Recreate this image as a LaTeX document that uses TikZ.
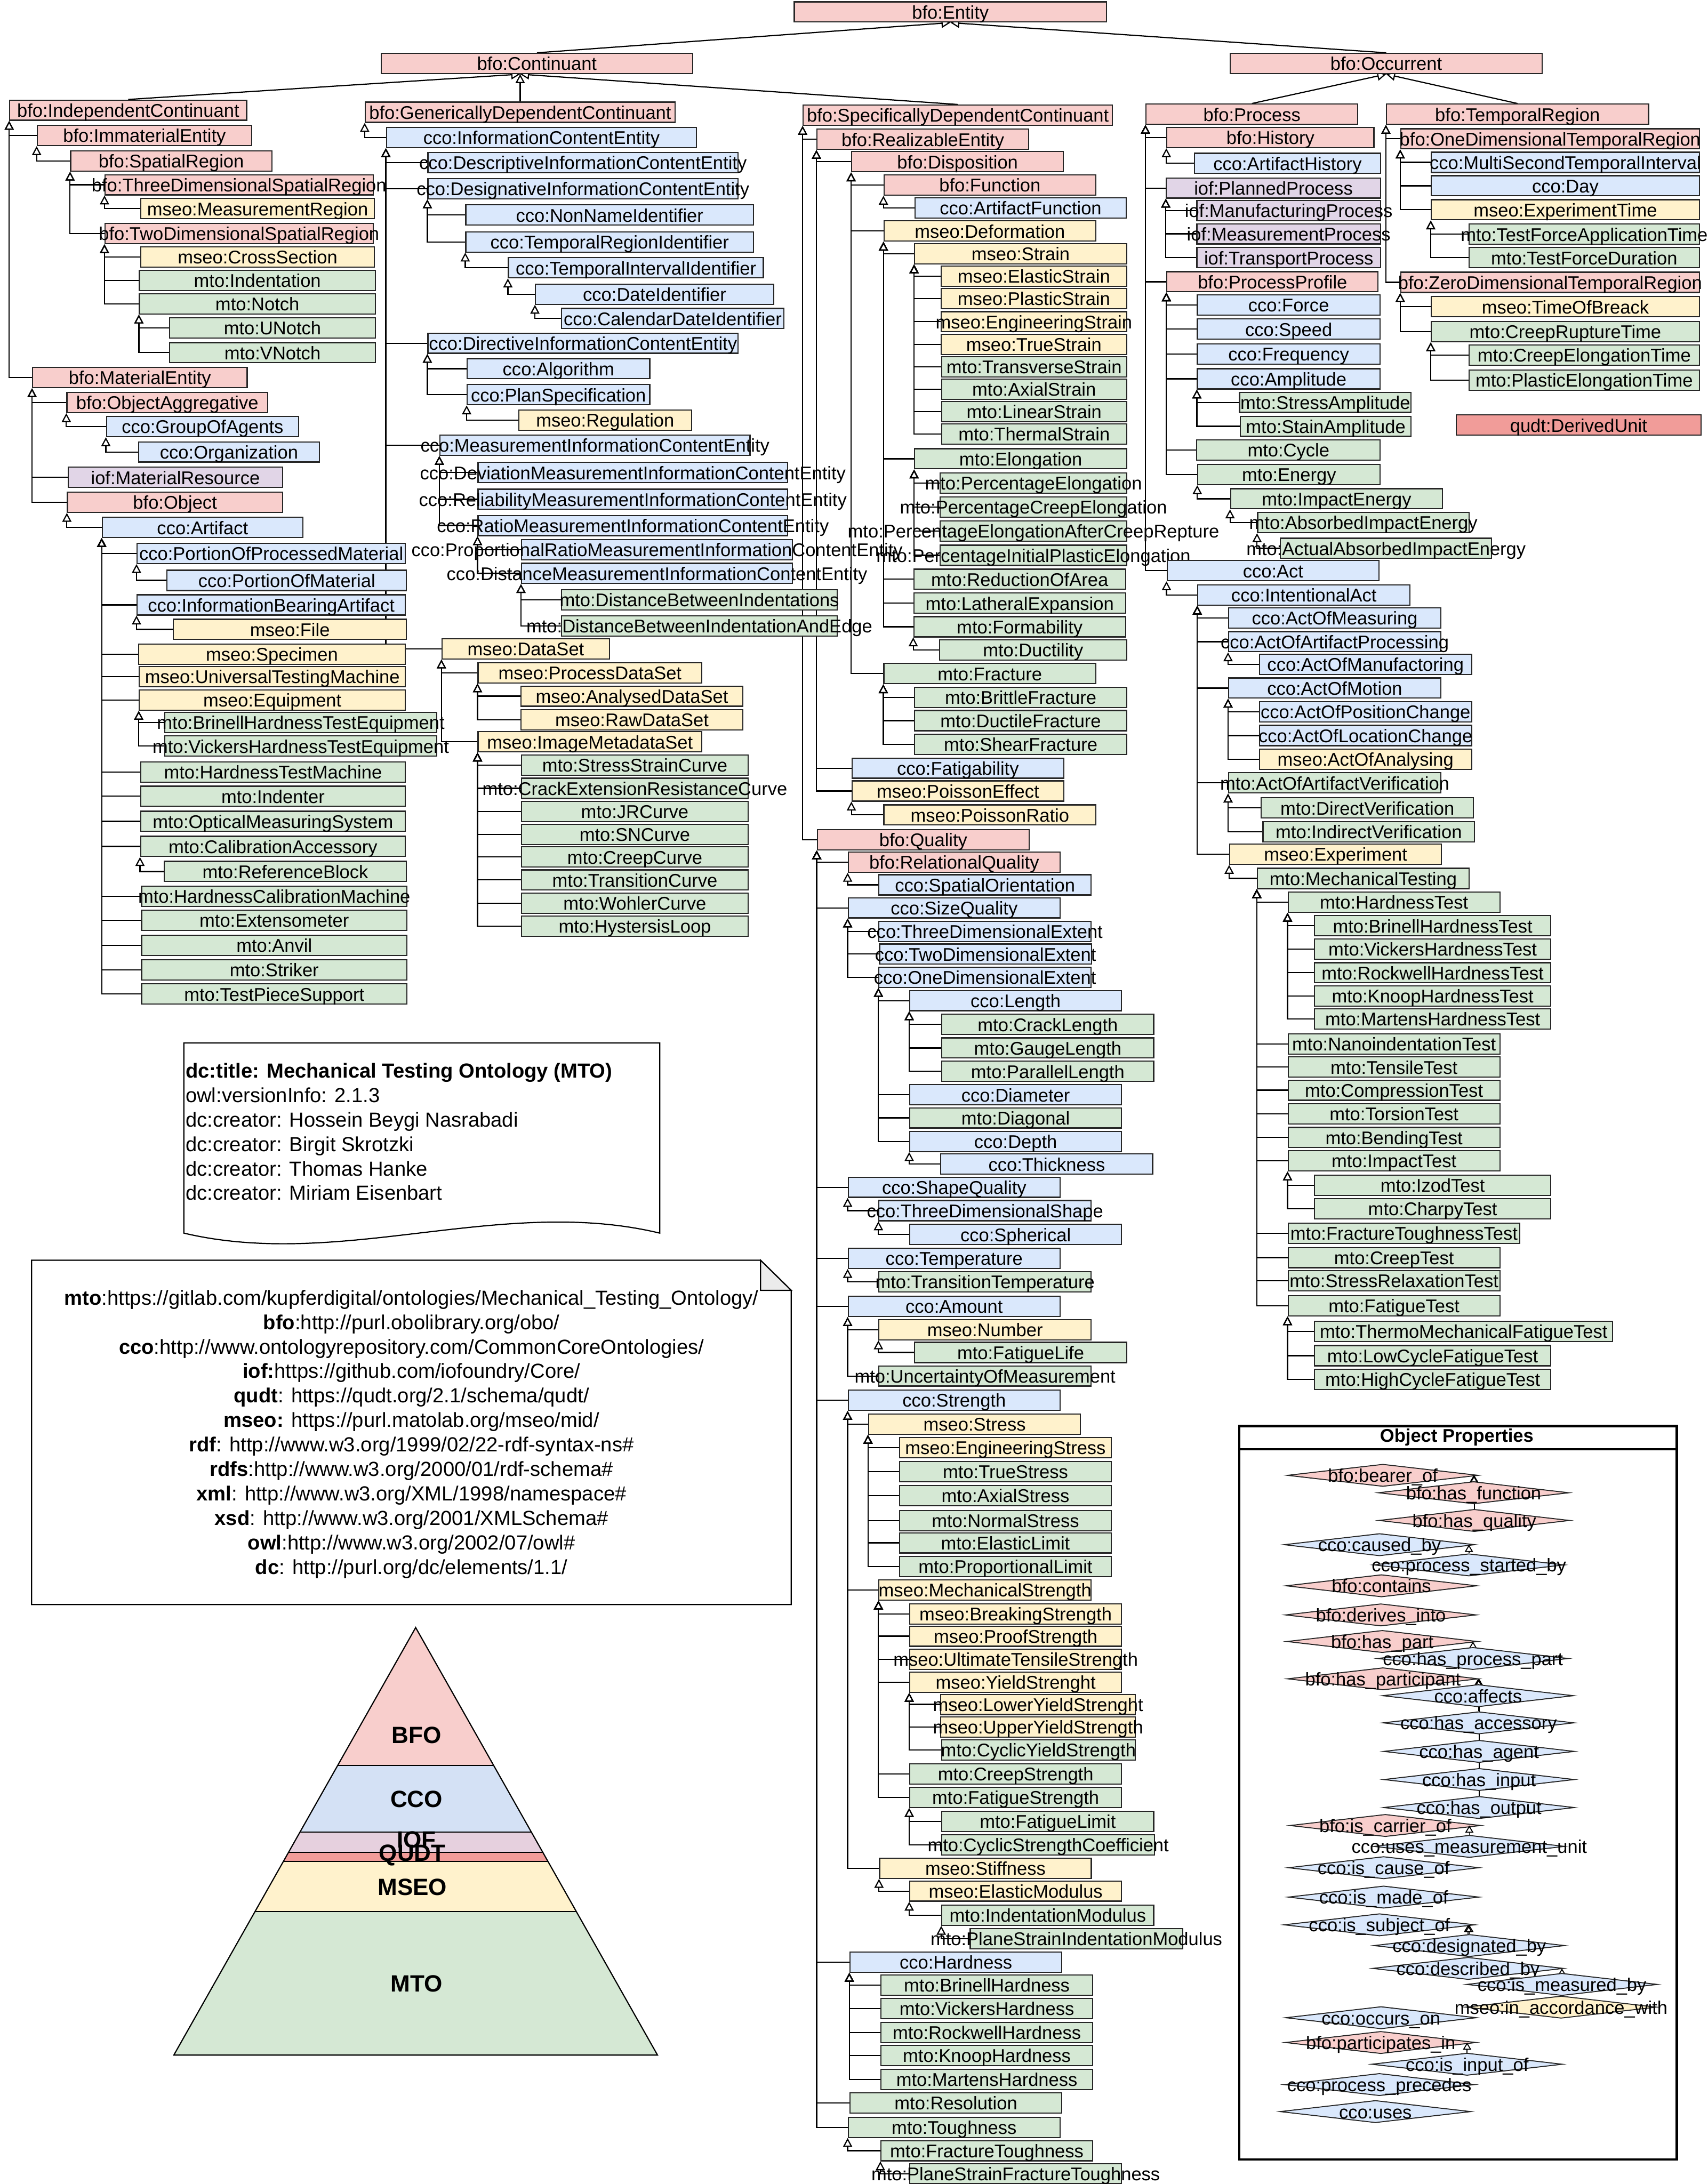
\documentclass[tikz,border=0pt]{standalone}
\usepackage{fontspec}
\setmainfont{Liberation Sans}
\usepackage{tikz}
\usetikzlibrary{arrows.meta,shapes.geometric}
\definecolor{bfoC}{HTML}{F8CECC}
\definecolor{ccoC}{HTML}{DAE8FC}
\definecolor{mseoC}{HTML}{FFF2CC}
\definecolor{mtoC}{HTML}{D5E8D4}
\definecolor{iofC}{HTML}{E1D5E7}
\definecolor{qudtC}{HTML}{F19C99}
\definecolor{pyrcco}{HTML}{D4E1F5}
\definecolor{pyriof}{HTML}{E6D0DE}
\pgfdeclarelayer{background}
\pgfdeclarelayer{front}
\pgfsetlayers{background,main,front}
\newcommand{\boxfont}{\fontsize{9.4}{11}\selectfont}
\newcommand{\notefont}{\fontsize{10.4}{12.5}\selectfont}
\newcommand{\boxlabel}[1]{\makebox[0pt]{\raisebox{-3.5pt}[0pt][0pt]{#1}}}
\tikzset{
  cls/.style={rectangle, draw=black!85, line width=0.6pt, anchor=north west, inner sep=0pt, minimum height=0.3625cm, font=\boxfont},
  wd/.style={minimum width=#1*0.025cm},
  bfo/.style={cls, fill=bfoC},
  cco/.style={cls, fill=ccoC},
  mseo/.style={cls, fill=mseoC},
  mto/.style={cls, fill=mtoC},
  iof/.style={cls, fill=iofC},
  qudt/.style={cls, fill=qudtC},
  isa/.style={line width=0.6pt, -{Triangle[open, length=0.16cm, width=0.165cm]}},
  prop/.style={diamond, draw=black!85, line width=0.5pt, inner sep=0pt, minimum width=3.425cm, minimum height=0.4cm, font=\boxfont},
  subprop/.style={line width=0.5pt, -{Triangle[open, length=0.13cm, width=0.15cm]}},
}

\begin{document}
\begin{tikzpicture}[x=0.025cm, y=-0.025cm]
  \useasboundingbox (0,0) rectangle (1226,1568);
  % Top level
  \node[bfo, wd=224.1] (entity) at (569.8,0.9) {\boxlabel{bfo:Entity}};
  \node[bfo, wd=223.4] (continuant) at (273.3,37.9) {\boxlabel{bfo:Continuant}};
  \node[bfo, wd=223.8] (occurrent) at (882.8,37.9) {\boxlabel{bfo:Occurrent}};
  % Independent continuants
  \node[bfo, wd=170] (indcont) at (6.6,71.4) {\boxlabel{bfo:IndependentContinuant}};
  \node[bfo, wd=154] (immat) at (26.3,89.6) {\boxlabel{bfo:ImmaterialEntity}};
  \node[bfo, wd=144.4] (spatial) at (50.3,107.9) {\boxlabel{bfo:SpatialRegion}};
  \node[bfo, wd=192.4] (threedsr) at (75,125) {\boxlabel{bfo:ThreeDimensionalSpatialRegion}};
  \node[mseo, wd=167.8] (measreg) at (100.6,142.1) {\boxlabel{mseo:MeasurementRegion}};
  \node[bfo, wd=192.4] (twodsr) at (75,160) {\boxlabel{bfo:TwoDimensionalSpatialRegion}};
  \node[mseo, wd=167.8] (crosssec) at (100.6,176.8) {\boxlabel{mseo:CrossSection}};
  \node[mto, wd=169.3] (indentation) at (99.7,193.6) {\boxlabel{mto:Indentation}};
  \node[mto, wd=169.3] (notch) at (99.7,210.5) {\boxlabel{mto:Notch}};
  \node[mto, wd=147.6] (unotch) at (121.4,227.7) {\boxlabel{mto:UNotch}};
  \node[mto, wd=147.6] (vnotch) at (121.4,245.5) {\boxlabel{mto:VNotch}};
  \node[bfo, wd=154] (matent) at (23,263.4) {\boxlabel{bfo:MaterialEntity}};
  \node[bfo, wd=144.2] (objagg) at (47.6,281.3) {\boxlabel{bfo:ObjectAggregative}};
  \node[cco, wd=138] (groupag) at (76,298.6) {\boxlabel{cco:GroupOfAgents}};
  \node[cco, wd=130] (organization) at (99,316.8) {\boxlabel{cco:Organization}};
  \node[iof, wd=153.8] (matres) at (48.6,335) {\boxlabel{iof:MaterialResource}};
  \node[bfo, wd=154.4] (object) at (48,352.9) {\boxlabel{bfo:Object}};
  \node[cco, wd=144] (artifact) at (73,371) {\boxlabel{cco:Artifact}};
  \node[cco, wd=192.6] (ppm) at (98,389.6) {\boxlabel{cco:PortionOfProcessedMaterial}};
  \node[cco, wd=171.9] (pom) at (119.5,409) {\boxlabel{cco:PortionOfMaterial}};
  \node[cco, wd=192.6] (iba) at (98,426.6) {\boxlabel{cco:InformationBearingArtifact}};
  \node[mseo, wd=167.4] (file) at (124,444.2) {\boxlabel{mseo:File}};
  \node[mseo, wd=191.6] (specimen) at (99,462) {\boxlabel{mseo:Specimen}};
  \node[mseo, wd=191] (utm) at (99.6,478) {\boxlabel{mseo:UniversalTestingMachine}};
  \node[mseo, wd=191] (equipment) at (99.6,495) {\boxlabel{mseo:Equipment}};
  \node[mto, wd=195] (bhte) at (118,511) {\boxlabel{mto:BrinellHardnessTestEquipment}};
  \node[mto, wd=195] (vhte) at (118,528) {\boxlabel{mto:VickersHardnessTestEquipment}};
  \foreach \nm/\yy/\txt in {htm/546.5/HardnessTestMachine, indenter/564/Indenter,
      oms/582/OpticalMeasuringSystem, calacc/600/CalibrationAccessory}{
    \node[mto, wd=190.1] (\nm) at (100.5,\yy) {\boxlabel{mto:\txt}};
  }
  \node[mto, wd=174] (refblock) at (117.4,618) {\boxlabel{mto:ReferenceBlock}};
  \foreach \nm/\yy/\txt in {hcm/635.7/HardnessCalibrationMachine, extenso/653/Extensometer,
      anvil/671/Anvil, striker/688.6/Striker, tps/706/TestPieceSupport}{
    \node[mto, wd=190.5] (\nm) at (101.2,\yy) {\boxlabel{mto:\txt}};
  }
  % Generically dependent continuants
  \node[bfo, wd=222.4] (gdc) at (261.8,72.9) {\boxlabel{bfo:GenericallyDependentContinuant}};
  \node[cco, wd=222.6] (ice) at (277,91) {\boxlabel{cco:InformationContentEntity}};
  \node[cco, wd=222.6] (descice) at (306.8,109) {\boxlabel{cco:DescriptiveInformationContentEntity}};
  \node[cco, wd=222.6] (desigice) at (306.8,127.8) {\boxlabel{cco:DesignativeInformationContentEntity}};
  \node[cco, wd=206.5] (nonname) at (334,146.7) {\boxlabel{cco:NonNameIdentifier}};
  \node[cco, wd=206.5] (tempregid) at (334,166) {\boxlabel{cco:TemporalRegionIdentifier}};
  \node[cco, wd=183] (tempintid) at (364.6,184.6) {\boxlabel{cco:TemporalIntervalIdentifier}};
  \node[cco, wd=171] (dateid) at (384,203.5) {\boxlabel{cco:DateIdentifier}};
  \node[cco, wd=159.8] (caldateid) at (402.6,221) {\boxlabel{cco:CalendarDateIdentifier}};
  \node[cco, wd=222.6] (dirice) at (306.8,238.7) {\boxlabel{cco:DirectiveInformationContentEntity}};
  \node[cco, wd=131] (algorithm) at (335,257) {\boxlabel{cco:Algorithm}};
  \node[cco, wd=131] (planspec) at (335,275.7) {\boxlabel{cco:PlanSpecification}};
  \node[mseo, wd=124] (regulation) at (372,294) {\boxlabel{mseo:Regulation}};
  \node[cco, wd=222.6] (measice) at (315.4,312) {\boxlabel{cco:MeasurementInformationContentEntity}};
  \node[cco, wd=222.2] (devmice) at (342.8,331.6) {\boxlabel{cco:DeviationMeasurementInformationContentEntity}};
  \node[cco, wd=222.2] (relmice) at (342.8,350.8) {\boxlabel{cco:ReliabilityMeasurementInformationContentEntity}};
  \node[cco, wd=222.2] (ratiomice) at (342.8,369.6) {\boxlabel{cco:RatioMeasurementInformationContentEntity}};
  \node[cco, wd=194.5] (propmice) at (374,387) {\boxlabel{cco:ProportionalRatioMeasurementInformationContentEntity}};
  \node[cco, wd=194.5] (distmice) at (374,404) {\boxlabel{cco:DistanceMeasurementInformationContentEntity}};
  \node[mto, wd=198.1] (dbi) at (402.6,423) {\boxlabel{mto:DistanceBetweenIndentations}};
  \node[mto, wd=198.1] (dbie) at (402.6,441.7) {\boxlabel{mto:DistanceBetweenIndentationAndEdge}};
  \node[mseo, wd=120.2] (dataset) at (316.9,458.1) {\boxlabel{mseo:DataSet}};
  \node[mseo, wd=160.6] (procds) at (342.8,475.3) {\boxlabel{mseo:ProcessDataSet}};
  \node[mseo, wd=159] (analds) at (373.7,492.1) {\boxlabel{mseo:AnalysedDataSet}};
  \node[mseo, wd=159] (rawds) at (373.7,509) {\boxlabel{mseo:RawDataSet}};
  \node[mseo, wd=160.6] (imgmeta) at (342.8,524.9) {\boxlabel{mseo:ImageMetadataSet}};
  \foreach \nm/\yy/\txt in {sscurve/541.7/StressStrainCurve, crcurve/558.3/CrackExtensionResistanceCurve,
      jrcurve/575/JRCurve, sncurve/591.4/SNCurve, creepcurve/607.6/CreepCurve,
      transcurve/624.1/TransitionCurve, wohler/640.7/WohlerCurve, hysteresis/657.2/HystersisLoop}{
    \node[mto, wd=162.6] (\nm) at (374,\yy) {\boxlabel{mto:\txt}};
  }
  % Specifically dependent continuants
  \node[bfo, wd=222] (sdc) at (576.2,75) {\boxlabel{bfo:SpecificallyDependentContinuant}};
  \node[bfo, wd=152] (realizable) at (586.1,92.3) {\boxlabel{bfo:RealizableEntity}};
  \node[bfo, wd=152] (disposition) at (611,108.4) {\boxlabel{bfo:Disposition}};
  \node[bfo, wd=152] (function) at (634.2,125.2) {\boxlabel{bfo:Function}};
  \node[cco, wd=151.6] (artfunc) at (656.5,141.6) {\boxlabel{cco:ArtifactFunction}};
  \node[mseo, wd=152] (deformation) at (634.2,158.2) {\boxlabel{mseo:Deformation}};
  \node[mseo, wd=152.2] (strain) at (656.2,174.5) {\boxlabel{mseo:Strain}};
  \foreach \nm/\yy/\txt in {elastrain/190.6/ElasticStrain, plastrain/206.6/PlasticStrain,
      engstrain/223.3/EngineeringStrain, truestrain/239.6/TrueStrain}{
    \node[mseo, wd=133.2] (\nm) at (675.2,\yy) {\boxlabel{mseo:\txt}};
  }
  \foreach \nm/\yy/\txt in {transstrain/255.7/TransverseStrain, axstrain/271.8/AxialStrain,
      linstrain/287.8/LinearStrain, thermstrain/303.9/ThermalStrain}{
    \node[mto, wd=132.9] (\nm) at (675.5,\yy) {\boxlabel{mto:\txt}};
  }
  \node[mto, wd=152.2] (elongation) at (656.2,321.7) {\boxlabel{mto:Elongation}};
  \foreach \nm/\yy/\txt in {pctelong/339.1/PercentageElongation, pctcreep/356.3/PercentageCreepElongation,
      pctafter/373.5/PercentageElongationAfterCreepRepture, pctinit/391/PercentageInitialPlasticElongation}{
    \node[mto, wd=133.8] (\nm) at (674.6,\yy) {\boxlabel{mto:\txt}};
  }
  \foreach \nm/\yy/\txt in {redarea/408.2/ReductionOfArea, latexp/425.4/LatheralExpansion,
      formability/442.3/Formability}{
    \node[mto, wd=152] (\nm) at (655.6,\yy) {\boxlabel{mto:\txt}};
  }
  \node[mto, wd=134.4] (ductility) at (674,459) {\boxlabel{mto:Ductility}};
  \node[mto, wd=152.2] (fracture) at (634.1,475.9) {\boxlabel{mto:Fracture}};
  \foreach \nm/\yy/\txt in {britfrac/493/BrittleFracture, ductfrac/509.7/DuctileFracture,
      shearfrac/526.6/ShearFracture}{
    \node[mto, wd=152.2] (\nm) at (656.2,\yy) {\boxlabel{mto:\txt}};
  }
  \node[cco, wd=152.1] (fatigability) at (611.2,543.8) {\boxlabel{cco:Fatigability}};
  \node[mseo, wd=152.1] (poissoneff) at (611.2,560.2) {\boxlabel{mseo:PoissonEffect}};
  \node[mseo, wd=152.2] (poissonratio) at (634.1,577.4) {\boxlabel{mseo:PoissonRatio}};
  % Qualities
  \node[bfo, wd=152.2] (quality) at (586.3,595.2) {\boxlabel{bfo:Quality}};
  \node[bfo, wd=152.1] (relqual) at (608.5,611.3) {\boxlabel{bfo:RelationalQuality}};
  \node[cco, wd=152.2] (spatorient) at (630.6,627.6) {\boxlabel{cco:SpatialOrientation}};
  \node[cco, wd=152.1] (sizequal) at (608.5,644.1) {\boxlabel{cco:SizeQuality}};
  \node[cco, wd=152.2] (threedext) at (630.6,661) {\boxlabel{cco:ThreeDimensionalExtent}};
  \node[cco, wd=152.2] (twodext) at (631,677.3) {\boxlabel{cco:TwoDimensionalExtent}};
  \node[cco, wd=152.2] (onedext) at (630.6,693.9) {\boxlabel{cco:OneDimensionalExtent}};
  \node[cco, wd=152] (length) at (652.7,710.7) {\boxlabel{cco:Length}};
  \foreach \nm/\yy/\txt in {cracklen/727.8/CrackLength, gaugelen/744.7/GaugeLength,
      parallen/761.5/ParallelLength}{
    \node[mto, wd=152.1] (\nm) at (675.7,\yy) {\boxlabel{mto:\txt}};
  }
  \node[cco, wd=152] (diameter) at (652.7,778.3) {\boxlabel{cco:Diameter}};
  \node[mto, wd=152] (diagonal) at (652.7,794.9) {\boxlabel{mto:Diagonal}};
  \node[cco, wd=152] (depth) at (652.7,811.8) {\boxlabel{cco:Depth}};
  \node[cco, wd=152] (thickness) at (675,828.1) {\boxlabel{cco:Thickness}};
  \node[cco, wd=152.1] (shapequal) at (608.5,844.7) {\boxlabel{cco:ShapeQuality}};
  \node[cco, wd=152.2] (threedshape) at (630.6,861.5) {\boxlabel{cco:ThreeDimensionalShape}};
  \node[cco, wd=152] (spherical) at (652.7,878.6) {\boxlabel{cco:Spherical}};
  \node[cco, wd=152.1] (temperature) at (608.5,895.7) {\boxlabel{cco:Temperature}};
  \node[mto, wd=152.2] (transtemp) at (630.6,912.5) {\boxlabel{mto:TransitionTemperature}};
  \node[cco, wd=152.1] (amount) at (608.5,930.2) {\boxlabel{cco:Amount}};
  \node[mseo, wd=152.2] (number) at (630.6,947) {\boxlabel{mseo:Number}};
  \node[mto, wd=152.2] (fatiguelife) at (656.2,963.3) {\boxlabel{mto:FatigueLife}};
  \node[mto, wd=152.2] (uncertainty) at (630.6,980.2) {\boxlabel{mto:UncertaintyOfMeasurement}};
  \node[cco, wd=152.1] (strength) at (608.5,997.6) {\boxlabel{cco:Strength}};
  \node[mseo, wd=152.2] (stress) at (623.1,1014.8) {\boxlabel{mseo:Stress}};
  \node[mseo, wd=152.1] (engstress) at (645.3,1031.6) {\boxlabel{mseo:EngineeringStress}};
  \foreach \nm/\yy/\txt in {truestress/1048.8/TrueStress, axstress/1066/AxialStress,
      normstress/1084/NormalStress, elaslimit/1100/ElasticLimit, proplimit/1117/ProportionalLimit}{
    \node[mto, wd=152.1] (\nm) at (645.3,\yy) {\boxlabel{mto:\txt}};
  }
  \node[mseo, wd=152.2] (mechstrength) at (630.6,1133.8) {\boxlabel{mseo:MechanicalStrength}};
  \foreach \nm/\yy/\txt in {breakstrength/1151/BreakingStrength, proofstrength/1167/ProofStrength,
      uts/1183.5/UltimateTensileStrength, yieldstrength/1200/YieldStrenght}{
    \node[mseo, wd=152] (\nm) at (652.7,\yy) {\boxlabel{mseo:\txt}};
  }
  \node[mseo, wd=139.6] (loweryield) at (675,1216) {\boxlabel{mseo:LowerYieldStrenght}};
  \node[mseo, wd=139.6] (upperyield) at (675,1232.2) {\boxlabel{mseo:UpperYieldStrength}};
  \node[mto, wd=139.1] (cyclicyield) at (675.5,1248.7) {\boxlabel{mto:CyclicYieldStrength}};
  \node[mto, wd=152] (creepstrength) at (652.7,1265.9) {\boxlabel{mto:CreepStrength}};
  \node[mto, wd=152] (fatiguestrength) at (652.7,1282.7) {\boxlabel{mto:FatigueStrength}};
  \node[mto, wd=152.1] (fatiguelimit) at (675.7,1300) {\boxlabel{mto:FatigueLimit}};
  \node[mto, wd=152.7] (cycstrcoef) at (675.7,1316.8) {\boxlabel{mto:CyclicStrengthCoefficient}};
  \node[mseo, wd=152] (stiffness) at (631,1333.6) {\boxlabel{mseo:Stiffness}};
  \node[mseo, wd=152] (elasmod) at (652.7,1350) {\boxlabel{mseo:ElasticModulus}};
  \node[mto, wd=152.1] (indentmod) at (675.7,1367.3) {\boxlabel{mto:IndentationModulus}};
  \node[mto, wd=152.4] (psindentmod) at (696.1,1384.1) {\boxlabel{mto:PlaneStrainIndentationModulus}};
  \node[cco, wd=152.2] (hardness) at (609.7,1401) {\boxlabel{cco:Hardness}};
  \foreach \nm/\yy/\txt in {brinell/1417.4/BrinellHardness, vickers/1434.3/VickersHardness,
      rockwell/1451.5/RockwellHardness, knoop/1468/KnoopHardness, martens/1485.2/MartensHardness}{
    \node[mto, wd=152] (\nm) at (632,\yy) {\boxlabel{mto:\txt}};
  }
  \node[mto, wd=152.2] (resolution) at (609.7,1502) {\boxlabel{mto:Resolution}};
  \node[mto, wd=152.1] (toughness) at (608.5,1519.6) {\boxlabel{mto:Toughness}};
  \node[mto, wd=152] (fractough) at (632,1536.4) {\boxlabel{mto:FractureToughness}};
  \node[mto, wd=152] (psfractough) at (652.7,1552.9) {\boxlabel{mto:PlaneStrainFractureToughness}};
  % Processes
  \node[bfo, wd=152] (process) at (822.3,74.3) {\boxlabel{bfo:Process}};
  \node[bfo, wd=148.6] (history) at (837.3,91.1) {\boxlabel{bfo:History}};
  \node[cco, wd=133.5] (arthist) at (857.1,109.6) {\boxlabel{cco:ArtifactHistory}};
  \node[iof, wd=153.7] (plannedproc) at (836.9,127.3) {\boxlabel{iof:PlannedProcess}};
  \foreach \nm/\yy/\txt in {manufproc/143.4/ManufacturingProcess, measproc/160.2/MeasurementProcess,
      transproc/177.3/TransportProcess}{
    \node[iof, wd=131.8] (\nm) at (858.8,\yy) {\boxlabel{iof:\txt}};
  }
  \node[bfo, wd=151.6] (procprofile) at (837.3,194.6) {\boxlabel{bfo:ProcessProfile}};
  \foreach \nm/\yy/\txt in {force/211.3/Force, speed/228.6/Speed, frequency/246.4/Frequency,
      amplitude/264.3/Amplitude}{
    \node[cco, wd=131] (\nm) at (859.2,\yy) {\boxlabel{cco:\txt}};
  }
  \node[mto, wd=123.2] (stressamp) at (889.4,281.2) {\boxlabel{mto:StressAmplitude}};
  \node[mto, wd=122.6] (stainamp) at (890,298.4) {\boxlabel{mto:StainAmplitude}};
  \node[mto, wd=131.7] (cycle) at (858.7,315.4) {\boxlabel{mto:Cycle}};
  \node[mto, wd=130.9] (energy) at (859.5,333) {\boxlabel{mto:Energy}};
  \node[mto, wd=152.2] (impactenergy) at (883,350.4) {\boxlabel{mto:ImpactEnergy}};
  \node[mto, wd=151.8] (absimpact) at (902.4,367.5) {\boxlabel{mto:AbsorbedImpactEnergy}};
  \node[mto, wd=151.6] (actabsimpact) at (918.8,386) {\boxlabel{mto:ActualAbsorbedImpactEnergy}};
  \node[cco, wd=152.2] (act) at (837.4,402) {\boxlabel{cco:Act}};
  \node[cco, wd=152.3] (intact) at (859.5,419.5) {\boxlabel{cco:IntentionalAct}};
  \node[cco, wd=152.3] (actmeas) at (881.6,436) {\boxlabel{cco:ActOfMeasuring}};
  \node[cco, wd=152.3] (actartproc) at (881.6,453) {\boxlabel{cco:ActOfArtifactProcessing}};
  \node[cco, wd=152.3] (actmanuf) at (903.7,469.2) {\boxlabel{cco:ActOfManufactoring}};
  \node[cco, wd=152.3] (actmotion) at (881.6,486.3) {\boxlabel{cco:ActOfMotion}};
  \node[cco, wd=152.3] (actposchange) at (903.7,503.3) {\boxlabel{cco:ActOfPositionChange}};
  \node[cco, wd=152.3] (actlocchange) at (903.7,520.4) {\boxlabel{cco:ActOfLocationChange}};
  \node[mseo, wd=152.3] (actanalysing) at (903.7,537.4) {\boxlabel{mseo:ActOfAnalysing}};
  \node[mto, wd=152.3] (actartver) at (881.6,554.4) {\boxlabel{mto:ActOfArtifactVerification}};
  \node[mto, wd=152.3] (directver) at (905,572.4) {\boxlabel{mto:DirectVerification}};
  \node[mto, wd=151.8] (indirectver) at (906.3,589.4) {\boxlabel{mto:IndirectVerification}};
  \node[mseo, wd=152] (experiment) at (882.4,605.6) {\boxlabel{mseo:Experiment}};
  \node[mto, wd=152] (mechtest) at (902.2,623) {\boxlabel{mto:MechanicalTesting}};
  \node[mto, wd=152] (hardtest) at (924.3,640) {\boxlabel{mto:HardnessTest}};
  \foreach \nm/\yy/\txt in {brinelltest/657/BrinellHardnessTest, vickerstest/673.7/VickersHardnessTest,
      rockwelltest/690.7/RockwellHardnessTest, knooptest/707.3/KnoopHardnessTest,
      martenstest/723.9/MartensHardnessTest}{
    \node[mto, wd=169.5] (\nm) at (943.3,\yy) {\boxlabel{mto:\txt}};
  }
  \foreach \nm/\yy/\txt in {nanotest/741.9/NanoindentationTest, tensiletest/758.4/TensileTest,
      compressiontest/775/CompressionTest, torsiontest/792/TorsionTest, bendingtest/809/BendingTest,
      impacttest/825.7/ImpactTest}{
    \node[mto, wd=152] (\nm) at (924.3,\yy) {\boxlabel{mto:\txt}};
  }
  \node[mto, wd=169.5] (izodtest) at (943.3,843.2) {\boxlabel{mto:IzodTest}};
  \node[mto, wd=169.5] (charpytest) at (943.3,860.2) {\boxlabel{mto:CharpyTest}};
  \node[mto, wd=166.4] (fractoughtest) at (924.3,877.7) {\boxlabel{mto:FractureToughnessTest}};
  \node[mto, wd=152] (creeptest) at (924.3,895.2) {\boxlabel{mto:CreepTest}};
  \node[mto, wd=152] (stressrelaxtest) at (924.3,911.8) {\boxlabel{mto:StressRelaxationTest}};
  \node[mto, wd=152] (fatiguetest) at (924.3,929.7) {\boxlabel{mto:FatigueTest}};
  \node[mto, wd=214] (tmftest) at (943.3,948.2) {\boxlabel{mto:ThermoMechanicalFatigueTest}};
  \node[mto, wd=169.5] (lcftest) at (943.3,965.6) {\boxlabel{mto:LowCycleFatigueTest}};
  \node[mto, wd=169.5] (hcftest) at (943.3,982.7) {\boxlabel{mto:HighCycleFatigueTest}};
  % Temporal regions
  \node[bfo, wd=188.1] (tempregion) at (994.9,74.3) {\boxlabel{bfo:TemporalRegion}};
  \node[bfo, wd=214.3] (onedtr) at (1005.2,92) {\boxlabel{bfo:OneDimensionalTemporalRegion}};
  \node[cco, wd=192.4] (msti) at (1027.1,108.9) {\boxlabel{cco:MultiSecondTemporalInterval}};
  \node[cco, wd=192.4] (day) at (1027.1,125.7) {\boxlabel{cco:Day}};
  \node[mseo, wd=192.4] (exptime) at (1027.1,142.9) {\boxlabel{mseo:ExperimentTime}};
  \node[mto, wd=165.3] (tfat) at (1054.2,160.5) {\boxlabel{mto:TestForceApplicationTime}};
  \node[mto, wd=165.3] (tfd) at (1054.2,177.3) {\boxlabel{mto:TestForceDuration}};
  \node[bfo, wd=214.3] (zerodtr) at (1005.2,195) {\boxlabel{bfo:ZeroDimensionalTemporalRegion}};
  \node[mseo, wd=192.4] (timeofbreack) at (1027.1,212.5) {\boxlabel{mseo:TimeOfBreack}};
  \node[mto, wd=192.4] (creeprupture) at (1027.1,230.4) {\boxlabel{mto:CreepRuptureTime}};
  \node[mto, wd=165.3] (creepelong) at (1054.2,247.3) {\boxlabel{mto:CreepElongationTime}};
  \node[mto, wd=165.3] (plastelong) at (1054.2,265.2) {\boxlabel{mto:PlasticElongationTime}};
  \node[qudt, wd=175.5] (derivedunit) at (1045.1,297.5) {\boxlabel{qudt:DerivedUnit}};

  % Generalisation connectors
  \begin{pgfonlayer}{background}
    \draw[isa] (continuant.north) -- (entity.south);
    \draw[isa] (occurrent.north) -- (entity.south);
    \foreach \ch in {indcont,gdc,sdc} \draw[isa] (\ch.north) -- (gdc.north |- continuant.south);
    \foreach \ch in {process,tempregion} \draw[isa] (\ch.north) -- (occurrent.south);
    \foreach \ch in {immat,matent} \draw[isa] (\ch.west) -| (indcont.south west);
    \draw[isa] (spatial.west) -| (immat.south west);
    \foreach \ch in {threedsr,twodsr} \draw[isa] (\ch.west) -| (spatial.south west);
    \draw[isa] (measreg.west) -| (threedsr.south west);
    \foreach \ch in {crosssec,indentation,notch} \draw[isa] (\ch.west) -| (twodsr.south west);
    \foreach \ch in {unotch,vnotch} \draw[isa] (\ch.west) -| (notch.south west);
    \foreach \ch in {objagg,matres,object} \draw[isa] (\ch.west) -| (matent.south west);
    \draw[isa] (groupag.west) -| (objagg.south west);
    \draw[isa] (organization.west) -| (groupag.south west);
    \draw[isa] (artifact.west) -| (object.south west);
    \foreach \ch in {ppm,iba,specimen,utm,equipment,htm,indenter,oms,calacc,hcm,extenso,anvil,striker,tps}
      \draw[isa] (\ch.west) -| (artifact.south west);
    \draw[isa] (pom.west) -| (ppm.south west);
    \draw[isa] (file.west) -| (iba.south west);
    \foreach \ch in {bhte,vhte} \draw[isa] (\ch.west) -| (equipment.south west);
    \draw[isa] (refblock.west) -| (calacc.south west);
    \draw[isa] (ice.west) -| (gdc.south west);
    \foreach \ch in {descice,desigice,dirice,measice,dataset} \draw[isa] (\ch.west) -| (ice.south west);
    \foreach \ch in {nonname,tempregid} \draw[isa] (\ch.west) -| (desigice.south west);
    \draw[isa] (tempintid.west) -| (tempregid.south west);
    \draw[isa] (dateid.west) -| (tempintid.south west);
    \draw[isa] (caldateid.west) -| (dateid.south west);
    \foreach \ch in {algorithm,planspec} \draw[isa] (\ch.west) -| (dirice.south west);
    \draw[isa] (regulation.west) -| (planspec.south west);
    \foreach \ch in {devmice,relmice,ratiomice} \draw[isa] (\ch.west) -| (measice.south west);
    \foreach \ch in {propmice,distmice} \draw[isa] (\ch.west) -| (ratiomice.south west);
    \foreach \ch in {dbi,dbie} \draw[isa] (\ch.west) -| (distmice.south west);
    \foreach \ch in {procds,imgmeta} \draw[isa] (\ch.west) -| (dataset.south west);
    \foreach \ch in {analds,rawds} \draw[isa] (\ch.west) -| (procds.south west);
    \foreach \ch in {sscurve,crcurve,jrcurve,sncurve,creepcurve,transcurve,wohler,hysteresis}
      \draw[isa] (\ch.west) -| (imgmeta.south west);
    \foreach \ch in {realizable,quality} \draw[isa] (\ch.west) -| (sdc.south west);
    \foreach \ch in {disposition,fatigability,poissoneff} \draw[isa] (\ch.west) -| (realizable.south west);
    \foreach \ch in {function,deformation,fracture} \draw[isa] (\ch.west) -| (disposition.south west);
    \draw[isa] (artfunc.west) -| (function.south west);
    \foreach \ch in {strain,elongation,redarea,latexp,formability} \draw[isa] (\ch.west) -| (deformation.south west);
    \foreach \ch in {elastrain,plastrain,engstrain,truestrain,transstrain,axstrain,linstrain,thermstrain}
      \draw[isa] (\ch.west) -| (strain.south west);
    \foreach \ch in {pctelong,pctcreep,pctafter,pctinit} \draw[isa] (\ch.west) -| (elongation.south west);
    \draw[isa] (ductility.west) -| (formability.south west);
    \foreach \ch in {britfrac,ductfrac,shearfrac} \draw[isa] (\ch.west) -| (fracture.south west);
    \draw[isa] (poissonratio.west) -| (poissoneff.south west);
    \foreach \ch in {relqual,sizequal,shapequal,temperature,amount,strength,hardness,resolution,toughness}
      \draw[isa] (\ch.west) -| (quality.south west);
    \draw[isa] (spatorient.west) -| (relqual.south west);
    \foreach \ch in {threedext,twodext,onedext} \draw[isa] (\ch.west) -| (sizequal.south west);
    \foreach \ch in {length,diameter,diagonal,depth} \draw[isa] (\ch.west) -| (onedext.south west);
    \foreach \ch in {cracklen,gaugelen,parallen} \draw[isa] (\ch.west) -| (length.south west);
    \draw[isa] (thickness.west) -| (depth.south west);
    \draw[isa] (threedshape.west) -| (shapequal.south west);
    \draw[isa] (spherical.west) -| (threedshape.south west);
    \draw[isa] (transtemp.west) -| (temperature.south west);
    \foreach \ch in {number,uncertainty} \draw[isa] (\ch.west) -| (amount.south west);
    \draw[isa] (fatiguelife.west) -| (number.south west);
    \foreach \ch in {stress,mechstrength,stiffness} \draw[isa] (\ch.west) -| (strength.south west);
    \foreach \ch in {engstress,truestress,axstress,normstress,elaslimit,proplimit}
      \draw[isa] (\ch.west) -| (stress.south west);
    \foreach \ch in {breakstrength,proofstrength,uts,yieldstrength,creepstrength,fatiguestrength}
      \draw[isa] (\ch.west) -| (mechstrength.south west);
    \foreach \ch in {loweryield,upperyield,cyclicyield} \draw[isa] (\ch.west) -| (yieldstrength.south west);
    \foreach \ch in {fatiguelimit,cycstrcoef} \draw[isa] (\ch.west) -| (fatiguestrength.south west);
    \draw[isa] (elasmod.west) -| (stiffness.south west);
    \draw[isa] (indentmod.west) -| (elasmod.south west);
    \draw[isa] (psindentmod.west) -| (indentmod.south west);
    \foreach \ch in {brinell,vickers,rockwell,knoop,martens} \draw[isa] (\ch.west) -| (hardness.south west);
    \draw[isa] (fractough.west) -| (toughness.south west);
    \draw[isa] (psfractough.west) -| (fractough.south west);
    \foreach \ch in {history,plannedproc,procprofile,act} \draw[isa] (\ch.west) -| (process.south west);
    \draw[isa] (arthist.west) -| (history.south west);
    \foreach \ch in {manufproc,measproc,transproc} \draw[isa] (\ch.west) -| (plannedproc.south west);
    \foreach \ch in {force,speed,frequency,amplitude,cycle,energy} \draw[isa] (\ch.west) -| (procprofile.south west);
    \foreach \ch in {stressamp,stainamp} \draw[isa] (\ch.west) -| (amplitude.south west);
    \draw[isa] (impactenergy.west) -| (energy.south west);
    \draw[isa] (absimpact.west) -| (impactenergy.south west);
    \draw[isa] (actabsimpact.west) -| (absimpact.south west);
    \draw[isa] (intact.west) -| (act.south west);
    \foreach \ch in {actmeas,actartproc,actmotion,actartver,experiment} \draw[isa] (\ch.west) -| (intact.south west);
    \draw[isa] (actmanuf.west) -| (actartproc.south west);
    \foreach \ch in {actposchange,actlocchange,actanalysing} \draw[isa] (\ch.west) -| (actmotion.south west);
    \foreach \ch in {directver,indirectver} \draw[isa] (\ch.west) -| (actartver.south west);
    \draw[isa] (mechtest.west) -| (experiment.south west);
    \foreach \ch in {hardtest,nanotest,tensiletest,compressiontest,torsiontest,bendingtest,impacttest,fractoughtest,creeptest,stressrelaxtest,fatiguetest}
      \draw[isa] (\ch.west) -| (mechtest.south west);
    \foreach \ch in {brinelltest,vickerstest,rockwelltest,knooptest,martenstest} \draw[isa] (\ch.west) -| (hardtest.south west);
    \foreach \ch in {izodtest,charpytest} \draw[isa] (\ch.west) -| (impacttest.south west);
    \foreach \ch in {tmftest,lcftest,hcftest} \draw[isa] (\ch.west) -| (fatiguetest.south west);
    \foreach \ch in {onedtr,zerodtr} \draw[isa] (\ch.west) -| (tempregion.south west);
    \foreach \ch in {msti,day,exptime} \draw[isa] (\ch.west) -| (onedtr.south west);
    \foreach \ch in {tfat,tfd} \draw[isa] (\ch.west) -| (exptime.south west);
    \foreach \ch in {timeofbreack,creeprupture} \draw[isa] (\ch.west) -| (zerodtr.south west);
    \foreach \ch in {creepelong,plastelong} \draw[isa] (\ch.west) -| (creeprupture.south west);
  \end{pgfonlayer}

  % Metadata note
  \draw[line width=0.6pt, fill=white] (132,748.8) -- (473.6,748.8) -- (473.6,885.3)
    .. controls (360,858) and (245,912) .. (132,885.3) -- cycle;
  \node[font=\notefont, align=left, anchor=west, inner sep=0pt] (metanote) at (133,812.5)
    {\textbf{dc:title: Mechanical Testing Ontology (MTO)}\\
     owl:versionInfo: 2.1.3\\
     dc:creator: Hossein Beygi Nasrabadi\\
     dc:creator: Birgit Skrotzki\\
     dc:creator: Thomas Hanke\\
     dc:creator: Miriam Eisenbart};
  % Namespace note
  \draw[line width=0.6pt] (22.7,904.8) -- (546,904.8) -- (568,926.4) -- (568,1152) -- (22.7,1152) -- cycle;
  \draw[line width=0.6pt, fill=black!8] (546,904.8) -- (546,926.4) -- (568,926.4) -- cycle;
  \node[font=\notefont, align=center, inner sep=0pt] (nsnote) at (295.4,1029.7)
    {\textbf{mto}:https://gitlab.com/kupferdigital/ontologies/Mechanical\_Testing\_Ontology/\\
     \textbf{bfo}:http://purl.obolibrary.org/obo/\\
     \textbf{cco}:http://www.ontologyrepository.com/CommonCoreOntologies/\\
     \textbf{iof:}https://github.com/iofoundry/Core/\\
     \textbf{qudt}: https://qudt.org/2.1/schema/qudt/\\
     \textbf{mseo:} https://purl.matolab.org/mseo/mid/\\
     \textbf{rdf}: http://www.w3.org/1999/02/22-rdf-syntax-ns\#\\
     \textbf{rdfs}:http://www.w3.org/2000/01/rdf-schema\#\\
     \textbf{xml}: http://www.w3.org/XML/1998/namespace\#\\
     \textbf{xsd}: http://www.w3.org/2001/XMLSchema\#\\
     \textbf{owl}:http://www.w3.org/2002/07/owl\#\\
     \textbf{dc}: http://purl.org/dc/elements/1.1/};

  % Pyramid of ontologies
  \begin{scope}
    \clip (298.4,1168.5) -- (472,1475.4) -- (124.8,1475.4) -- cycle;
    \fill[bfoC] (100,1160) rectangle (500,1267.6);
    \fill[pyrcco] (100,1267.6) rectangle (500,1315.4);
    \fill[pyriof] (100,1315.4) rectangle (500,1330);
    \fill[qudtC] (100,1330) rectangle (500,1336.4);
    \fill[mseoC] (100,1336.4) rectangle (500,1372.3);
    \fill[mtoC] (100,1372.3) rectangle (500,1480);
    \foreach \yy in {1267.6,1315.4,1330,1336.4,1372.3}{
      \draw[line width=0.6pt] (100,\yy) -- (500,\yy);
    }
  \end{scope}
  \draw[line width=0.6pt] (298.4,1168.5) -- (472,1475.4) -- (124.8,1475.4) -- cycle;
  \node[font=\fontsize{12}{14}\selectfont\bfseries, inner sep=0pt] (pbfo) at (299,1245.6) {BFO};
  \node[font=\fontsize{12}{14}\selectfont\bfseries, inner sep=0pt] (pcco) at (299,1291.6) {CCO};
  \node[font=\fontsize{12}{14}\selectfont\bfseries, inner sep=0pt] (piof) at (299,1321) {IOF};
  \node[font=\fontsize{12}{14}\selectfont\bfseries, inner sep=0pt] (pqudt) at (296,1332) {QUDT};
  \node[font=\fontsize{12}{14}\selectfont\bfseries, inner sep=0pt] (pmseo) at (296,1355) {MSEO};
  \node[font=\fontsize{12}{14}\selectfont\bfseries, inner sep=0pt] (pmto) at (299,1424) {MTO};

  % Object properties
  \node[draw, line width=1.2pt, anchor=north west, inner sep=0pt, minimum width=7.85cm, minimum height=13.16cm] (opbox) at (888.8,1023) {};
  \draw[line width=1.2pt] (888.8,1040.4) -- (1202.8,1040.4);
  \node[font=\boxfont\bfseries] (optitle) at (1045.8,1031.7) {Object Properties};
  \node[prop, fill=bfoC] (bearerof) at (992.7,1059.2) {\boxlabel{bfo:bearer\_of}};
  \node[prop, fill=ccoC] (causedby) at (990.3,1109) {\boxlabel{cco:caused\_by}};
  \node[prop, fill=bfoC] (contains) at (991.7,1138.5) {\boxlabel{bfo:contains}};
  \node[prop, fill=bfoC] (derivesinto) at (991.3,1159.4) {\boxlabel{bfo:derives\_into}};
  \node[prop, fill=bfoC] (haspart) at (992.3,1178.5) {\boxlabel{bfo:has\_part}};
  \node[prop, fill=bfoC] (hasparticipant) at (992.8,1205.3) {\boxlabel{bfo:has\_participant}};
  \node[prop, fill=bfoC] (iscarrierof) at (994.5,1310.6) {\boxlabel{bfo:is\_carrier\_of}};
  \node[prop, fill=ccoC] (iscauseof) at (993.3,1340.9) {\boxlabel{cco:is\_cause\_of}};
  \node[prop, fill=ccoC] (ismadeof) at (993.3,1362) {\boxlabel{cco:is\_made\_of}};
  \node[prop, fill=ccoC] (issubjectof) at (990.3,1381.9) {\boxlabel{cco:is\_subject\_of}};
  \node[prop, fill=ccoC] (occurson) at (991.4,1448.6) {\boxlabel{cco:occurs\_on}};
  \node[prop, fill=bfoC] (participatesin) at (991.2,1466.4) {\boxlabel{bfo:participates\_in}};
  \node[prop, fill=ccoC] (processprecedes) at (990.2,1496.6) {\boxlabel{cco:process\_precedes}};
  \node[prop, fill=ccoC] (uses) at (987.4,1516) {\boxlabel{cco:uses}};
  \begin{pgfonlayer}{front}
    \node[prop, fill=bfoC] (hasfunction) at (1057.9,1071.7) {\boxlabel{bfo:has\_function}};
    \node[prop, fill=bfoC] (hasquality) at (1058.4,1091.6) {\boxlabel{bfo:has\_quality}};
    \node[prop, fill=ccoC] (processstartedby) at (1054.5,1123.5) {\boxlabel{cco:process\_started\_by}};
    \node[prop, fill=ccoC] (hasprocesspart) at (1057.4,1190.7) {\boxlabel{cco:has\_process\_part}};
    \node[prop, fill=ccoC] (affects) at (1061.1,1217.4) {\boxlabel{cco:affects}};
    \node[prop, fill=ccoC] (hasaccessory) at (1061.5,1236.9) {\boxlabel{cco:has\_accessory}};
    \node[prop, fill=ccoC] (hasagent) at (1061.8,1257.4) {\boxlabel{cco:has\_agent}};
    \node[prop, fill=ccoC] (hasinput) at (1061.8,1277.6) {\boxlabel{cco:has\_input}};
    \node[prop, fill=ccoC] (hasoutput) at (1061.8,1297.7) {\boxlabel{cco:has\_output}};
    \node[prop, fill=ccoC] (usesmeasunit) at (1054.8,1325.6) {\boxlabel{cco:uses\_measurement\_unit}};
    \node[prop, fill=ccoC] (designatedby) at (1054.8,1396.8) {\boxlabel{cco:designated\_by}};
    \node[prop, fill=ccoC] (describedby) at (1053.9,1413.2) {\boxlabel{cco:described\_by}};
    \node[prop, fill=ccoC] (ismeasuredby) at (1121.3,1424.7) {\boxlabel{cco:is\_measured\_by}};
    \node[prop, fill=mseoC] (inaccordancewith) at (1120.7,1441) {\boxlabel{mseo:in\_accordance\_with}};
    \node[prop, fill=ccoC] (isinputof) at (1053.2,1482) {\boxlabel{cco:is\_input\_of}};
  \end{pgfonlayer}
  \draw[subprop] (hasfunction.north) -- (hasfunction.north |- bearerof.center);
  \draw[subprop] (hasquality.north) -- (hasquality.north |- bearerof.center);
  \draw[subprop] (processstartedby.north) -- (processstartedby.north |- causedby.center);
  \draw[subprop] (hasprocesspart.north) -- (hasprocesspart.north |- haspart.center);
  \foreach \ch in {affects,hasaccessory,hasagent,hasinput,hasoutput}
    \draw[subprop] (\ch.north) -- (\ch.north |- hasparticipant.center);
  \draw[subprop] (usesmeasunit.north) -- (usesmeasunit.north |- iscarrierof.center);
  \foreach \ch in {designatedby,describedby}
    \draw[subprop] (\ch.north) -- (\ch.north |- issubjectof.center);
  \draw[subprop] (ismeasuredby.north) -- (ismeasuredby.north |- describedby.east);
  \draw[subprop] (isinputof.north) -- (isinputof.north |- participatesin.center);
\end{tikzpicture}
\end{document}
